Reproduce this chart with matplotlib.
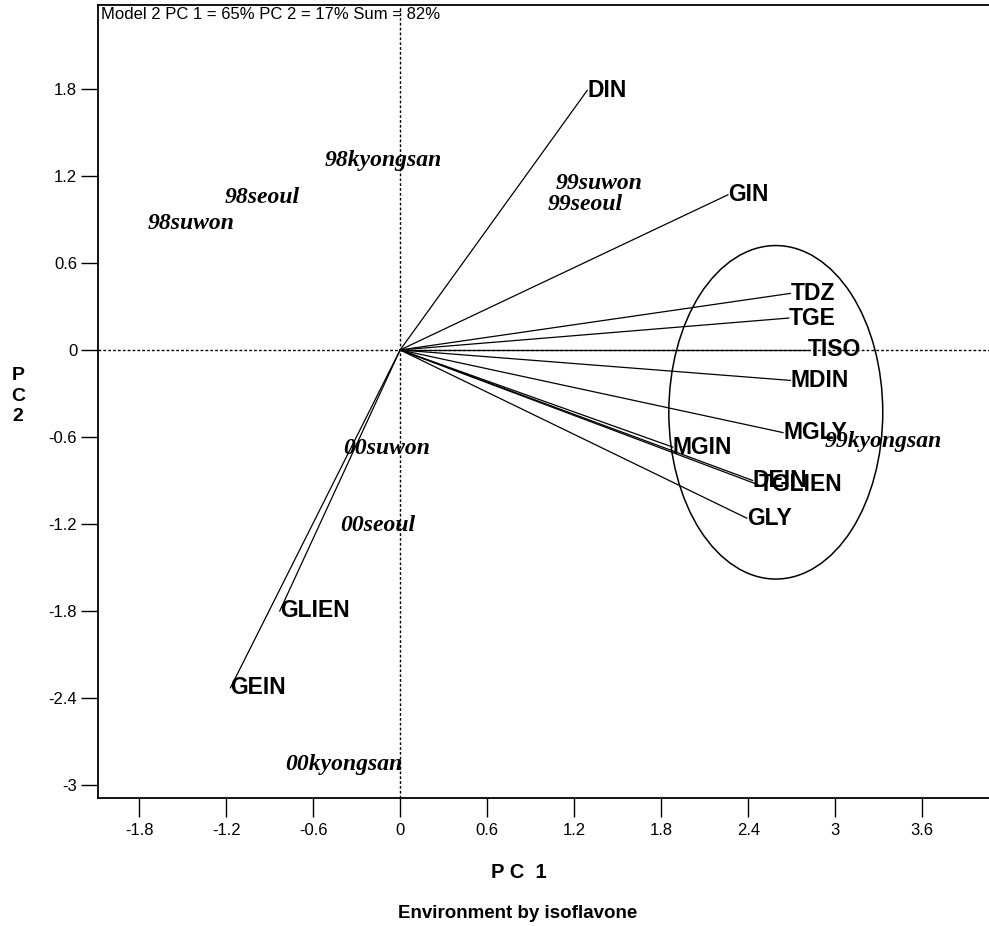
import matplotlib
matplotlib.use("Agg")
import matplotlib.pyplot as plt
from matplotlib.patches import Ellipse

# Isoflavone vectors (PC1, PC2 end points)
vec_names = ["DIN", "GIN", "TDZ", "TGE", "TISO", "MDIN", "MGLY", "MGIN",
             "DEIN", "TGLIEN", "GLY", "GLIEN", "GEIN"]
vec_pc1 = [1.29, 2.26, 2.69, 2.68, 2.81, 2.69, 2.64, 1.88,
           2.43, 2.47, 2.39, -0.83, -1.17]
vec_pc2 = [1.79, 1.07, 0.39, 0.22, 0.0, -0.21, -0.57, -0.67,
           -0.90, -0.93, -1.16, -1.80, -2.33]

# Environment labels (PC1, PC2)
env_names = ["98kyongsan", "98seoul", "98suwon", "99suwon", "99seoul",
             "99kyongsan", "00suwon", "00seoul", "00kyongsan"]
env_pc1 = [-0.52, -1.21, -1.74, 1.07, 1.02, 2.93, -0.39, -0.41, -0.79]
env_pc2 = [1.31, 1.05, 0.87, 1.15, 1.00, -0.63, -0.68, -1.21, -2.86]

xticks = [-1.8, -1.2, -0.6, 0, 0.6, 1.2, 1.8, 2.4, 3, 3.6]
yticks = [1.8, 1.2, 0.6, 0, -0.6, -1.2, -1.8, -2.4, -3]

fig = plt.figure(figsize=(9.89, 9.26), dpi=100)
ax = fig.add_axes([98/989, 1-798/926, 1-98/989, (798-5)/926])

ax.set_xlim(-2.083, 4.06)
ax.set_ylim(-3.09, 2.379)

ax.axhline(0, color="black", lw=1, ls=(0, (2, 1.5)), zorder=1)
ax.axvline(0, color="black", lw=1, ls=(0, (2, 1.5)), zorder=1)

for n, x, y in zip(vec_names, vec_pc1, vec_pc2):
    ax.plot([0, x], [0, y], color="black", lw=0.9, zorder=2)
    ax.text(x, y, n, fontsize=16.5, fontweight="bold", family="Liberation Sans",
            ha="left", va="center", zorder=3)

for n, x, y in zip(env_names, env_pc1, env_pc2):
    ax.text(x, y, n, fontsize=17, fontweight="bold", fontstyle="italic",
            family="Liberation Serif", ha="left", va="center", zorder=3)

ax.add_patch(Ellipse((2.59, -0.43), 1.475, 2.30, fill=False, ec="black", lw=1.1, zorder=2))

ax.set_xticks(xticks)
ax.set_xticklabels([str(t) for t in xticks])
ax.set_yticks(yticks)
ax.set_yticklabels([str(t) for t in yticks])
ax.tick_params(axis="x", direction="out", length=14, width=1, pad=4, labelsize=12)
ax.tick_params(axis="y", direction="out", length=12, width=1, pad=3, labelsize=12)
for lab in ax.get_xticklabels() + ax.get_yticklabels():
    lab.set_family("Liberation Sans")

for s in ["left", "bottom", "top"]:
    ax.spines[s].set_linewidth(1.3)
ax.spines["right"].set_visible(False)

ax.text(0.003, 0.997, "Model 2 PC 1 = 65% PC 2 = 17% Sum = 82%", transform=ax.transAxes,
        fontsize=12, family="Liberation Sans", ha="left", va="top")

fig.text(519/989, 1-873/926, "P C  1", fontsize=14.5, fontweight="bold",
         family="Liberation Sans", ha="center", va="center")
fig.text(518/989, 1-914/926, "Environment by isoflavone", fontsize=13.5, fontweight="bold",
         family="Liberation Sans", ha="center", va="center")
fig.text(18/989, 1-396/926, "P\nC\n2", fontsize=14, fontweight="bold",
         family="Liberation Sans", ha="center", va="center", linespacing=1.25)

fig.savefig("out.png", dpi=100)
